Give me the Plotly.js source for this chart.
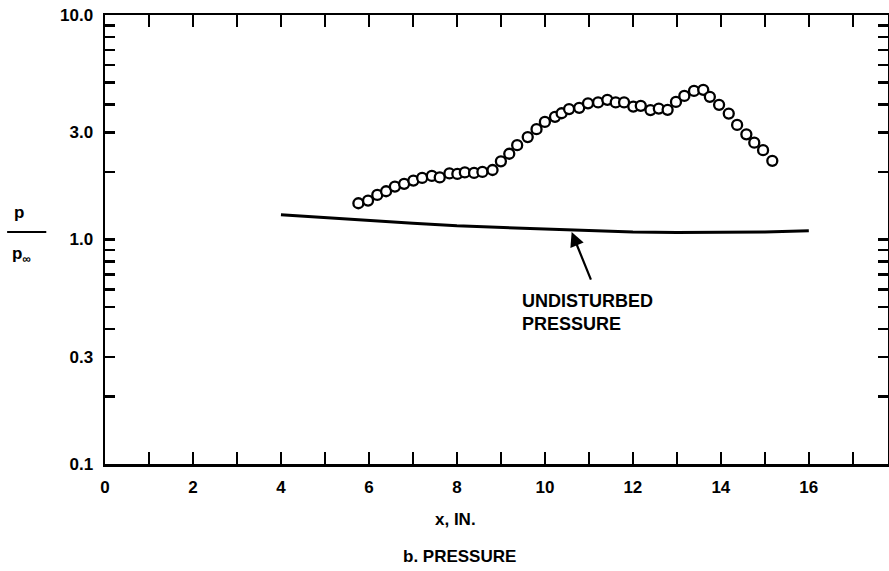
<!DOCTYPE html>
<html>
<head>
<meta charset="utf-8">
<script src="https://cdn.plot.ly/plotly-3.0.1.min.js"></script>
<style>html,body{margin:0;padding:0;background:#fff;}#chart{width:889px;height:571px;}</style>
</head>
<body>
<div id="chart"></div>
<script>
// Measured pressure ratio p/p_inf vs x (in.)
const xMeasured = [5.76, 5.98, 6.19, 6.39, 6.59, 6.80, 7.01, 7.21, 7.43, 7.61, 7.83, 8.01, 8.18, 8.39, 8.58, 8.81,
  9.00, 9.19, 9.37, 9.61, 9.81, 10.00, 10.23, 10.38, 10.55, 10.78, 10.98, 11.21, 11.42, 11.61, 11.80, 12.01,
  12.18, 12.40, 12.59, 12.79, 12.98, 13.17, 13.39, 13.60, 13.75, 13.96, 14.18, 14.37, 14.58, 14.76, 14.96, 15.17];
const pMeasured = [1.45, 1.49, 1.58, 1.64, 1.72, 1.77, 1.83, 1.88, 1.92, 1.89, 1.97, 1.96, 1.99, 1.98, 2.00, 2.04,
  2.23, 2.41, 2.63, 2.86, 3.10, 3.34, 3.52, 3.65, 3.81, 3.86, 4.04, 4.08, 4.19, 4.08, 4.08, 3.91,
  3.94, 3.77, 3.83, 3.78, 4.10, 4.36, 4.59, 4.64, 4.32, 3.98, 3.64, 3.24, 2.94, 2.70, 2.50, 2.24];
// Undisturbed pressure curve
const xUndisturbed = [4, 5, 6, 7, 8, 9, 10, 11, 12, 13, 14, 15, 16];
const pUndisturbed = [1.29, 1.25, 1.21, 1.18, 1.15, 1.13, 1.11, 1.095, 1.08, 1.075, 1.075, 1.08, 1.095];
// Axis ticks
const xTickVals = [0, 1, 2, 3, 4, 5, 6, 7, 8, 9, 10, 11, 12, 13, 14, 15, 16, 17];
const xTickText = ['0', '', '2', '', '4', '', '6', '', '8', '', '10', '', '12', '', '14', '', '16', ''];
const yTickVals = [0.1, 0.2, 0.3, 0.4, 0.5, 0.6, 0.7, 0.8, 0.9, 1, 2, 3, 4, 5, 6, 7, 8, 9, 10];
const yTickText = ['0.1', '', '0.3', '', '', '', '', '', '', '1.0', '', '3.0', '', '', '', '', '', '', '10.0'];
// Annotation arrow (head on the curve, tail near the label)
const arrowHead = [10.6, 1.09];
const arrowTail = [11.06, 0.652];

const FONT = 'Liberation Sans, Arial, sans-serif';
const fnt = {family: FONT, size: 17, color: '#000', weight: 'bold'};

const traces = [
  {x: xUndisturbed, y: pUndisturbed, mode: 'lines', line: {color: '#000', width: 3}, hoverinfo: 'skip'},
  {x: xMeasured, y: pMeasured, mode: 'markers',
   marker: {symbol: 'circle', size: 10, color: '#fff', line: {color: '#000', width: 2.3}}}
];

const layout = {
  width: 889, height: 571,
  margin: {l: 105, r: 1, t: 15, b: 107},
  paper_bgcolor: '#fff', plot_bgcolor: '#fff',
  showlegend: false,
  font: fnt,
  xaxis: {
    range: [0, 17.8], tickvals: xTickVals, ticktext: xTickText,
    ticks: 'inside', ticklen: 12, tickwidth: 2.5, tickcolor: '#000',
    showline: true, linewidth: 2.5, linecolor: '#000', mirror: 'allticks',
    showgrid: false, zeroline: false, ticklabelstandoff: 6, tickfont: fnt
  },
  yaxis: {
    type: 'log', range: [-1, 1], tickvals: yTickVals, ticktext: yTickText,
    ticks: 'inside', ticklen: 10, tickwidth: 2.5, tickcolor: '#000',
    showline: true, linewidth: 2.5, linecolor: '#000', mirror: 'allticks',
    showgrid: false, zeroline: false, ticklabelstandoff: 6, tickfont: fnt
  },
  shapes: [
    {type: 'line', xref: 'paper', yref: 'paper', x0: -0.125, x1: -0.075, y0: 0.5167, y1: 0.5167,
     line: {color: '#000', width: 2}}
  ],
  annotations: [
    {x: arrowHead[0], y: Math.log10(arrowHead[1]), ax: arrowTail[0], ay: Math.log10(arrowTail[1]),
     xref: 'x', yref: 'y', axref: 'x', ayref: 'y', text: '', showarrow: true,
     arrowhead: 2, arrowsize: 1.3, arrowwidth: 2.2, arrowcolor: '#000', standoff: 1},
    {x: 9.43, y: Math.log10(0.6), xref: 'x', yref: 'y', xanchor: 'left', yanchor: 'top', align: 'left',
     text: 'UNDISTURBED<br>PRESSURE', showarrow: false, font: {family: FONT, size: 18, color: '#000', weight: 'bold'}},
    {x: 0.447, y: -0.1247, xref: 'paper', yref: 'paper', xanchor: 'center', yanchor: 'middle',
     text: 'x, IN.', showarrow: false, font: fnt},
    {x: 0.453, y: -0.205, xref: 'paper', yref: 'paper', xanchor: 'center', yanchor: 'middle',
     text: 'b. PRESSURE', showarrow: false, font: fnt},
    {x: -0.11, y: 0.56, xref: 'paper', yref: 'paper', xanchor: 'center', yanchor: 'middle',
     text: 'p', showarrow: false, font: fnt},
    {x: -0.107, y: 0.465, xref: 'paper', yref: 'paper', xanchor: 'center', yanchor: 'middle',
     text: 'p<sub>∞</sub>', showarrow: false, font: fnt}
  ]
};

Plotly.newPlot('chart', traces, layout, {displayModeBar: false, staticPlot: true});
</script>
</body>
</html>
